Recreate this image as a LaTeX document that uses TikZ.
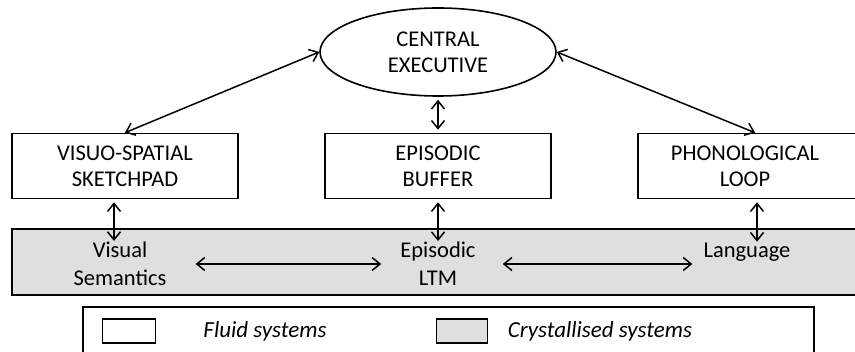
\documentclass[tikz,border=0pt]{standalone}
\usepackage{fontspec}
\setmainfont{Carlito}
\usetikzlibrary{shapes.geometric,arrows.meta}

\begin{document}
\begin{tikzpicture}[
    x=1pt, y=-1pt,
    % Estilos de las cajas
    fluidbox/.style={draw, line width=1.6pt, fill=white, minimum width=226pt, minimum height=65pt, inner sep=0pt, align=center, font=\fontsize{22.5}{26}\selectfont},
    execbox/.style={ellipse, draw, line width=1.6pt, fill=white, minimum width=236pt, minimum height=88pt, inner sep=0pt, align=center, font=\fontsize{22.5}{26}\selectfont},
    crystalfill/.style={draw, line width=1.6pt, fill=gray!25},
    % Estilos para los textos
    ltmtext/.style={align=center, inner sep=1pt, font=\fontsize{22.5}{28}\selectfont},
    keytext/.style={font=\fontsize{23}{26}\selectfont\itshape},
    link/.style={line width=1.5pt, {Straight Barb[length=8pt,width=13pt]}-{Straight Barb[length=8pt,width=13pt]}}
]
\useasboundingbox (0,0) rectangle (855,352);

% --- CRYSTALLISED BAND ---
\draw[crystalfill] (12,229) rectangle (870,295);
\node[ltmtext] (visual) at (120,264) {Visual\\Semantics};
\node[ltmtext] (eltm) at (438,264) {Episodic\\LTM};
\node[ltmtext] (lang) at (747,252) {Language};

% --- FLUID SYSTEMS ---
\node[execbox] (ce) at (438,52) {CENTRAL\\EXECUTIVE};
\node[fluidbox] (vs) at (125,166) {VISUO-SPATIAL\\SKETCHPAD};
\node[fluidbox] (eb) at (438,166) {EPISODIC\\BUFFER};
\node[fluidbox, minimum width=230pt] (pl) at (753,166) {\hspace*{-16pt}PHONOLOGICAL\\\hspace*{-16pt}LOOP};

% --- CONNECTORS ---
\draw[link] (vs.north) -- (ce.west);
\draw[link] (ce.east) -- ([xshift=2pt]pl.north);
\draw[link, shorten <=3pt, shorten >=3pt] (ce.south) -- (eb.north);
\draw[link, shorten <=3pt] ([xshift=-11pt]vs.south) -- ([xshift=-11pt]vs.south |- visual.north);
\draw[link, shorten <=3pt] (eb.south) -- (eb.south |- eltm.north);
\draw[link, shorten <=3pt] ([xshift=4pt]pl.south) -- ([xshift=4pt]pl.south |- lang.north);
\draw[link, shorten <=28pt, shorten >=18pt] (visual.east) -- (visual.east -| eltm.west);
\draw[link, shorten <=26pt, shorten >=10pt] (eltm.east) -- (eltm.east -| lang.west);

% --- LEGEND ---
\draw[line width=1.6pt] (83,307) rectangle (814,380);
\node[draw, line width=1.6pt, fill=white, minimum width=53pt, minimum height=24pt, inner sep=0pt] (fluidkey) at (129,331) {};
\node[keytext] (fluidlbl) at (265,331) {Fluid systems};
\node[crystalfill, minimum width=51pt, minimum height=24pt, inner sep=0pt] (crystkey) at (462,331) {};
\node[keytext] (crystlbl) at (600,331) {Crystallised systems};

\end{tikzpicture}
\end{document}
